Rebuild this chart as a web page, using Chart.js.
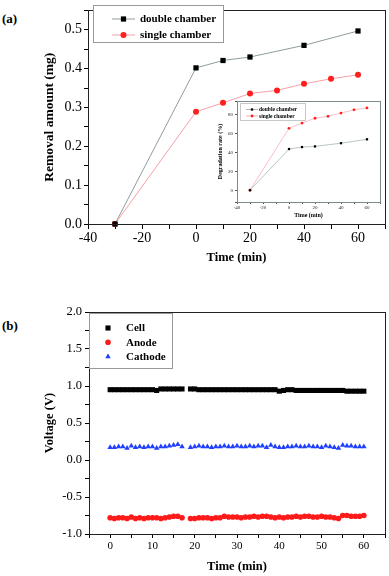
<!DOCTYPE html>
<html>
<head>
<meta charset="utf-8">
<script src="https://cdn.jsdelivr.net/npm/chart.js@4.4.1/dist/chart.umd.min.js"></script>
<style>
  body { margin: 0; background: #fff; width: 389px; height: 576px; position: relative; overflow: hidden; }
  canvas { position: absolute; }
  .tag { position: absolute; font: bold 13px "Liberation Serif", serif; color: #000; }
</style>
</head>
<body>
<div class="tag" style="left:2px;top:11px">(a)</div>
<div class="tag" style="left:2px;top:318px">(b)</div>
<canvas id="chartA" width="389" height="290" style="left:0;top:0"></canvas>
<canvas id="inset" width="174" height="126" style="left:212px;top:96px"></canvas>
<canvas id="chartB" width="389" height="286" style="left:0;top:290px"></canvas>
<script>
// ---- panel (a): removal amount ----
const doubleTime = [-30, 0, 10, 20, 40, 60];
const doubleRemoval = [0, 0.402, 0.421, 0.430, 0.460, 0.497];
const singleTime = [-30, 0, 10, 20, 30, 40, 50, 60];
const singleRemoval = [0, 0.289, 0.312, 0.336, 0.344, 0.361, 0.374, 0.384];

// ---- inset: degradation rate (%) ----
const doubleRate = [0, 43.6, 45.7, 46.4, 49.8, 53.9];
const singleRate = [0, 65.6, 71.1, 76.2, 78.3, 81.7, 85.2, 87.2];

// ---- panel (b): voltage ----
const timeB = [0, 1, 2, 3, 4, 5, 6, 7, 8, 9, 10, 11, 12, 13, 14, 15, 16, 17,
  19, 20, 21, 22, 23, 24, 25, 26, 27, 28, 29, 30, 31, 32, 33, 34, 35, 36, 37, 38, 39, 40,
  41, 42, 43, 44, 45, 46, 47, 48, 49, 50, 51, 52, 53, 54, 55, 56, 57, 58, 59, 60];
const cellV = [0.95, 0.95, 0.95, 0.95, 0.95, 0.95, 0.95, 0.95, 0.95, 0.95, 0.95, 0.94, 0.96, 0.96, 0.96, 0.96, 0.96, 0.96,
  0.96, 0.96, 0.95, 0.95, 0.95, 0.95, 0.95, 0.95, 0.95, 0.95, 0.95, 0.95, 0.95, 0.95, 0.95, 0.95, 0.95, 0.95, 0.95, 0.95,
  0.95, 0.93, 0.94, 0.95, 0.95, 0.94, 0.94, 0.94, 0.94, 0.94, 0.94, 0.94, 0.94, 0.94, 0.94, 0.94, 0.94, 0.93, 0.93, 0.93, 0.93, 0.93];
const anodeV = [-0.78, -0.79, -0.78, -0.78, -0.79, -0.77, -0.79, -0.78, -0.79, -0.78, -0.78, -0.78, -0.79, -0.78, -0.77, -0.76, -0.76, -0.78,
  -0.79, -0.79, -0.78, -0.78, -0.78, -0.79, -0.78, -0.78, -0.76, -0.77, -0.77, -0.77, -0.78, -0.77, -0.77, -0.76, -0.77, -0.76, -0.76, -0.77,
  -0.78, -0.77, -0.78, -0.77, -0.77, -0.76, -0.77, -0.76, -0.76, -0.77, -0.77, -0.76, -0.77, -0.77, -0.78, -0.79, -0.75, -0.75, -0.76, -0.76, -0.76, -0.75];
const cathodeV = [0.17, 0.17, 0.18, 0.18, 0.16, 0.19, 0.17, 0.18, 0.17, 0.18, 0.18, 0.16, 0.18, 0.18, 0.19, 0.20, 0.21, 0.18,
  0.17, 0.18, 0.19, 0.18, 0.18, 0.17, 0.18, 0.18, 0.19, 0.18, 0.18, 0.19, 0.18, 0.18, 0.19, 0.18, 0.19, 0.19, 0.17, 0.20,
  0.18, 0.17, 0.17, 0.18, 0.18, 0.19, 0.18, 0.18, 0.19, 0.18, 0.18, 0.17, 0.19, 0.18, 0.17, 0.16, 0.20, 0.19, 0.19, 0.18, 0.18, 0.18];

const serif = "'Liberation Serif', serif";
const pairs = (xs, ys) => xs.map((x, i) => ({ x: x, y: ys[i] }));

// box around the plot area
const frame = {
  id: "frame",
  afterDatasetsDraw(chart, args, opts) {
    const a = chart.chartArea, ctx = chart.ctx;
    ctx.save();
    ctx.strokeStyle = opts.color || "#000";
    ctx.lineWidth = 1;
    ctx.strokeRect(Math.round(a.left) + 0.5, Math.round(a.top) + 0.5,
      Math.round(a.right - a.left), Math.round(a.bottom - a.top));
    ctx.restore();
  },
};

// legend drawn in a box inside the plot, Origin style
function boxLegend(box) {
  return {
    id: "boxLegend",
    afterDraw(chart) {
      const ctx = chart.ctx;
      ctx.save();
      ctx.fillStyle = "#fff";
      ctx.fillRect(box.x, box.y, box.w, box.h);
      ctx.strokeStyle = box.border;
      ctx.lineWidth = 1;
      ctx.strokeRect(box.x + 0.5, box.y + 0.5, box.w, box.h);
      chart.data.datasets.forEach((ds, i) => {
        if (box.skip && box.skip.includes(i)) return;
        const y = box.rowY + i * box.rowH;
        if (box.line) {
          ctx.strokeStyle = ds.borderColor;
          ctx.lineWidth = 1;
          ctx.beginPath();
          ctx.moveTo(box.line[0], y);
          ctx.lineTo(box.line[1], y);
          ctx.stroke();
        }
        ctx.fillStyle = ds.pointBackgroundColor;
        Chart.helpers.drawPoint(ctx, { pointStyle: ds.pointStyle, radius: ds.pointRadius, rotation: 0, borderWidth: 0 }, box.markX, y);
        ctx.fillStyle = "#000";
        ctx.font = box.font;
        ctx.textBaseline = "middle";
        ctx.fillText(ds.label, box.textX, y + 0.5);
      });
      ctx.restore();
    },
  };
}

// ===== chart (a) =====
new Chart(document.getElementById("chartA"), {
  type: "line",
  data: {
    datasets: [
      {
        label: "double chamber",
        data: pairs(doubleTime, doubleRemoval),
        borderColor: "#8e9d9d",
        borderWidth: 1,
        pointStyle: "rect",
        pointRadius: 3.7,
        pointBackgroundColor: "#000",
        pointBorderWidth: 0,
        clip: false,
      },
      {
        label: "single chamber",
        data: pairs(singleTime, singleRemoval),
        borderColor: "#f5a0a8",
        borderWidth: 1,
        pointStyle: "circle",
        pointRadius: 3,
        pointBackgroundColor: "#ff1f1f",
        pointBorderWidth: 0,
        clip: false,
      },
    ],
  },
  options: {
    responsive: false,
    animation: false,
    layout: { padding: { top: 3, right: 2, left: 0, bottom: 0 } },
    scales: {
      x: {
        type: "linear",
        min: -40,
        max: 70,
        afterFit: (s) => { s.height = 66; },
        border: { display: false },
        grid: { drawOnChartArea: false, tickLength: 5, tickColor: "#000" },
        ticks: {
          stepSize: 10,
          padding: 1,
          color: "#000",
          font: { family: serif, size: 14 },
          maxRotation: 0,
          autoSkip: false,
          callback: (v) => (v % 20 === 0 ? v : ""),
        },
        title: {
          display: true,
          text: "Time (min)",
          color: "#000",
          font: { family: serif, size: 12.5, weight: "bold" },
          padding: { top: 0, bottom: 25 },
        },
      },
      y: {
        min: 0,
        max: 0.55,
        afterFit: (s) => { s.width = 88; },
        border: { display: false },
        grid: { drawOnChartArea: false, tickLength: 4, tickColor: "#000" },
        ticks: {
          stepSize: 0.05,
          padding: 2,
          color: "#000",
          font: { family: serif, size: 14 },
          autoSkip: false,
          callback: (v) => (Math.round(v * 100) % 10 === 0 ? v.toFixed(1) : ""),
        },
        title: {
          display: true,
          text: "Removal amount (mg)",
          color: "#000",
          font: { family: serif, size: 13.5, weight: "bold" },
          padding: { top: 41, bottom: 0 },
        },
      },
    },
    plugins: {
      legend: { display: false },
      tooltip: { enabled: false },
      frame: { color: "#222" },
    },
  },
  plugins: [
    frame,
    boxLegend({ x: 93, y: 5, w: 130, h: 37, border: "#999", rowY: 19, rowH: 16,
      line: [112, 135], markX: 123.5, textX: 140, font: "bold 11px " + serif }),
  ],
});

// ===== inset =====
new Chart(document.getElementById("inset"), {
  type: "line",
  data: {
    datasets: [
      {
        label: "double chamber",
        data: pairs(doubleTime, doubleRate),
        borderColor: "#aab6ba",
        borderWidth: 0.8,
        pointStyle: "rect",
        pointRadius: 1.6,
        pointBackgroundColor: "#000",
        pointBorderWidth: 0,
        clip: false,
      },
      {
        label: "single chamber",
        data: pairs(singleTime, singleRate),
        borderColor: "#f7b0b6",
        borderWidth: 0.8,
        pointStyle: "circle",
        pointRadius: 1.4,
        pointBackgroundColor: "#ff1f1f",
        pointBorderWidth: 0,
        clip: false,
      },
    ],
  },
  options: {
    responsive: false,
    animation: false,
    layout: { padding: { top: 3, right: 6, left: 0, bottom: 0 } },
    scales: {
      x: {
        type: "linear",
        min: -40,
        max: 70,
        afterFit: (s) => { s.height = 20; },
        border: { display: false },
        grid: { drawOnChartArea: false, tickLength: 2, tickColor: "#555" },
        ticks: {
          stepSize: 10,
          padding: 1,
          color: "#222",
          font: { family: serif, size: 5 },
          maxRotation: 0,
          autoSkip: false,
          callback: (v) => (v % 20 === 0 ? v : ""),
        },
        title: {
          display: true,
          text: "Time (min)",
          color: "#000",
          font: { family: serif, size: 6, weight: "bold" },
          padding: { top: 0, bottom: 2.5 },
        },
      },
      y: {
        min: -12.5,
        max: 94.5,
        afterFit: (s) => { s.width = 25; },
        border: { display: false },
        grid: { drawOnChartArea: false, tickLength: 2, tickColor: "#555" },
        ticks: {
          stepSize: 20,
          padding: 2,
          color: "#222",
          font: { family: serif, size: 5 },
          autoSkip: false,
          callback: (v) => (v % 20 === 0 ? v : ""),
        },
        title: {
          display: true,
          text: "Degradation rate (%)",
          color: "#000",
          font: { family: serif, size: 6, weight: "bold" },
          padding: { top: 5, bottom: 0 },
        },
      },
    },
    plugins: {
      legend: { display: false },
      tooltip: { enabled: false },
      frame: { color: "#7d8a8c" },
    },
  },
  plugins: [
    frame,
    boxLegend({ x: 28, y: 7, w: 65, h: 17, border: "#c8c8c8", rowY: 13.5, rowH: 6.5,
      line: [34, 46], markX: 40, textX: 47, font: "bold 5.5px " + serif }),
  ],
});

// ===== chart (b) =====
new Chart(document.getElementById("chartB"), {
  type: "scatter",
  data: {
    datasets: [
      {
        label: "Cell",
        data: pairs(timeB, cellV),
        pointStyle: "rect",
        pointRadius: 3.6,
        pointBackgroundColor: "#000",
        pointBorderWidth: 0,
        borderColor: "#000",
      },
      {
        label: "Anode",
        data: pairs(timeB, anodeV),
        pointStyle: "circle",
        pointRadius: 2.8,
        pointBackgroundColor: "#ff1a1a",
        pointBorderWidth: 0,
        borderColor: "#ff1a1a",
      },
      {
        label: "Cathode",
        data: pairs(timeB, cathodeV),
        pointStyle: "triangle",
        pointRadius: 3.2,
        pointBackgroundColor: "#2040ff",
        pointBorderWidth: 0,
        borderColor: "#2040ff",
      },
    ],
  },
  options: {
    responsive: false,
    animation: false,
    layout: { padding: { top: 22, right: 2, left: 0, bottom: 0 } },
    scales: {
      x: {
        type: "linear",
        min: -5,
        max: 65,
        afterFit: (s) => { s.height = 42; },
        border: { display: false },
        grid: { drawOnChartArea: false, tickLength: 4, tickColor: "#000" },
        ticks: {
          stepSize: 5,
          padding: 2,
          color: "#000",
          font: { family: serif, size: 11 },
          maxRotation: 0,
          autoSkip: false,
          callback: (v) => (v % 10 === 0 ? v : ""),
        },
        title: {
          display: true,
          text: "Time (min)",
          color: "#000",
          font: { family: serif, size: 12.5, weight: "bold" },
          padding: { top: 0, bottom: 1.5 },
        },
      },
      y: {
        min: -1,
        max: 2,
        afterFit: (s) => { s.width = 89; },
        border: { display: false },
        grid: { drawOnChartArea: false, tickLength: 4, tickColor: "#000" },
        ticks: {
          stepSize: 0.25,
          padding: 3,
          color: "#000",
          font: { family: serif, size: 12.5 },
          autoSkip: false,
          callback: (v) => (Math.round(v * 100) % 50 === 0 ? v.toFixed(1) : ""),
        },
        title: {
          display: true,
          text: "Voltage (V)",
          color: "#000",
          font: { family: serif, size: 12.5, weight: "bold" },
          padding: { top: 42, bottom: 0 },
        },
      },
    },
    plugins: {
      legend: { display: false },
      tooltip: { enabled: false },
      frame: { color: "#222" },
    },
  },
  plugins: [
    frame,
    boxLegend({ x: 89, y: 23, w: 83, h: 55, border: "#999", rowY: 38, rowH: 14.3,
      markX: 108, textX: 126, font: "bold 11px " + serif }),
  ],
});
</script>
</body>
</html>
